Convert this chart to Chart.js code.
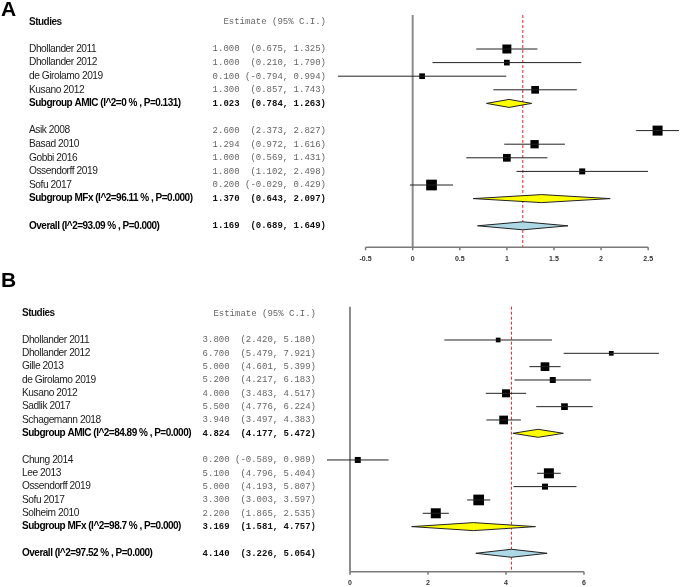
<!DOCTYPE html>
<html>
<head>
<meta charset="utf-8">
<script src="https://cdn.jsdelivr.net/npm/chart.js@4.4.1/dist/chart.umd.min.js"></script>
<style>
  html, body { margin: 0; padding: 0; background: #fff; }
  #wrap { position: relative; width: 680px; height: 587px; }
  canvas { position: absolute; left: 0; }
</style>
</head>
<body>
<div id="wrap">
  <canvas id="chartA" width="680" height="265" style="top:0"></canvas>
  <canvas id="chartB" width="680" height="322" style="top:265px"></canvas>
</div>
<script>
// ---- Panel A data ----
const studiesA = ['Dhollander 2011', 'Dhollander 2012', 'de Girolamo 2019', 'Kusano 2012',
                  'Asik 2008', 'Basad 2010', 'Gobbi 2016', 'Ossendorff 2019', 'Sofu 2017'];
const groupsA = ['AMIC', 'AMIC', 'AMIC', 'AMIC', 'MFx', 'MFx', 'MFx', 'MFx', 'MFx'];
const estA = [1.000, 1.000, 0.100, 1.300, 2.600, 1.294, 1.000, 1.800, 0.200];
const loA  = [0.675, 0.210, -0.794, 0.857, 2.373, 0.972, 0.569, 1.102, -0.029];
const hiA  = [1.325, 1.790, 0.994, 1.743, 2.827, 1.616, 1.431, 2.498, 0.429];
const subI2A = ['0', '96.11'];
const subPA  = ['0.131', '0.000'];
const subEstA = [1.023, 1.370];
const subLoA  = [0.784, 0.643];
const subHiA  = [1.263, 2.097];
const overallA = { i2: '93.09', p: '0.000', est: 1.169, lo: 0.689, hi: 1.649 };
const ticksA = [-0.5, 0, 0.5, 1, 1.5, 2, 2.5];

// ---- Panel B data ----
const studiesB = ['Dhollander 2011', 'Dhollander 2012', 'Gille 2013', 'de Girolamo 2019', 'Kusano 2012',
                  'Sadlik 2017', 'Schagemann 2018', 'Chung 2014', 'Lee 2013', 'Ossendorff 2019',
                  'Sofu 2017', 'Solheim 2010'];
const groupsB = ['AMIC', 'AMIC', 'AMIC', 'AMIC', 'AMIC', 'AMIC', 'AMIC', 'MFx', 'MFx', 'MFx', 'MFx', 'MFx'];
const estB = [3.800, 6.700, 5.000, 5.200, 4.000, 5.500, 3.940, 0.200, 5.100, 5.000, 3.300, 2.200];
const loB  = [2.420, 5.479, 4.601, 4.217, 3.483, 4.776, 3.497, -0.589, 4.796, 4.193, 3.003, 1.865];
const hiB  = [5.180, 7.921, 5.399, 6.183, 4.517, 6.224, 4.383, 0.989, 5.404, 5.807, 3.597, 2.535];
const subI2B = ['84.89', '98.7'];
const subPB  = ['0.000', '0.000'];
const subEstB = [4.824, 3.169];
const subLoB  = [4.177, 1.581];
const subHiB  = [5.472, 4.757];
const overallB = { i2: '97.52', p: '0.000', est: 4.140, lo: 3.226, hi: 5.054 };
const ticksB = [0, 2, 4, 6];

// square sizes (px), they stand for study weights
const boxA = [9, 5.7, 5.7, 7.7, 10, 8.3, 7.7, 6, 10.7];
const boxB = [4.7, 4.7, 8.7, 6, 8, 6.7, 8.7, 6, 10, 6, 10.7, 10];

const SANS = '"Liberation Sans", Arial, sans-serif';
const MONO = '"Liberation Mono", "Courier New", monospace';

function fmtEst(e, l, h) {
  return e.toFixed(3) + ' ' + ('(' + l.toFixed(3)).padStart(7) + ', ' + h.toFixed(3) + ')';
}

// rows: studies of a group, then its subgroup line, then a blank line; overall last
function buildRows(groups) {
  const studyRow = [], subRow = [], names = [];
  let r = 0;
  [...new Set(groups)].forEach((g, gi) => {
    groups.forEach((gg, i) => { if (gg === g) studyRow[i] = r++; });
    names[gi] = g;
    subRow[gi] = r++;
    r++;
  });
  return { studyRow, subRow, names, overallRow: r };
}

function makePanel(canvasId, p) {
  const rows = buildRows(p.groups);
  const ciData = [];
  p.lo.forEach((l, i) => {
    ciData.push({ x: l, y: rows.studyRow[i] }, { x: p.hi[i], y: rows.studyRow[i] }, { x: p.hi[i], y: null });
  });
  const boxData = p.est.map((e, i) => ({ x: e, y: rows.studyRow[i] }));

  const diamonds = p.subEst.map((e, gi) => ({ row: rows.subRow[gi], est: e, lo: p.subLo[gi], hi: p.subHi[gi], fill: '#ffff00' }));
  diamonds.push({ row: rows.overallRow, est: p.overall.est, lo: p.overall.lo, hi: p.overall.hi, fill: '#add8e6' });

  const textRows = [];
  p.studies.forEach((s, i) => textRows.push({ row: rows.studyRow[i], name: s, est: fmtEst(p.est[i], p.lo[i], p.hi[i]), bold: false }));
  rows.names.forEach((g, gi) => textRows.push({
    row: rows.subRow[gi], bold: true,
    name: 'Subgroup ' + g + ' (I^2=' + p.subI2[gi] + ' % , P=' + p.subP[gi] + ')',
    est: fmtEst(p.subEst[gi], p.subLo[gi], p.subHi[gi])
  }));
  textRows.push({ row: rows.overallRow, bold: true,
    name: 'Overall (I^2=' + p.overall.i2 + ' % , P=' + p.overall.p + ')',
    est: fmtEst(p.overall.est, p.overall.lo, p.overall.hi) });

  const forestPlugin = {
    id: 'forest',
    beforeDatasetsDraw(chart) {
      const { ctx, scales: { x, y } } = chart;
      const top = y.getPixelForValue(-2.5), axisY = y.getPixelForValue(p.axisRow);
      ctx.save();
      // zero line
      ctx.strokeStyle = '#8c8c8c';
      ctx.lineWidth = 2;
      ctx.beginPath();
      ctx.moveTo(x.getPixelForValue(0), top);
      ctx.lineTo(x.getPixelForValue(0), axisY);
      ctx.stroke();
      // overall estimate line
      ctx.strokeStyle = '#e8262a';
      ctx.lineWidth = 1;
      ctx.setLineDash([3, 2]);
      ctx.beginPath();
      ctx.moveTo(x.getPixelForValue(p.overall.est), top);
      ctx.lineTo(x.getPixelForValue(p.overall.est), axisY);
      ctx.stroke();
      ctx.setLineDash([]);
      // x axis
      const t0 = x.getPixelForValue(p.ticks[0]), t1 = x.getPixelForValue(p.ticks[p.ticks.length - 1]);
      ctx.strokeStyle = '#7a7a7a';
      ctx.lineWidth = 1.5;
      ctx.beginPath();
      ctx.moveTo(t0, axisY);
      ctx.lineTo(t1, axisY);
      p.ticks.forEach(t => {
        const px = x.getPixelForValue(t);
        ctx.moveTo(px, axisY);
        ctx.lineTo(px, axisY + 3);
      });
      ctx.stroke();
      ctx.fillStyle = '#333';
      ctx.font = 'bold 7px ' + SANS;
      ctx.textAlign = 'center';
      ctx.textBaseline = 'middle';
      p.ticks.forEach(t => ctx.fillText(String(t), x.getPixelForValue(t), axisY + 11.5));
      ctx.restore();
    },
    afterDatasetsDraw(chart) {
      const { ctx, scales: { x, y } } = chart;
      ctx.save();
      ctx.lineWidth = 1;
      ctx.strokeStyle = '#222';
      diamonds.forEach(d => {
        const yc = y.getPixelForValue(d.row);
        ctx.beginPath();
        ctx.moveTo(x.getPixelForValue(d.lo), yc);
        ctx.lineTo(x.getPixelForValue(d.est), yc - 4);
        ctx.lineTo(x.getPixelForValue(d.hi), yc);
        ctx.lineTo(x.getPixelForValue(d.est), yc + 4);
        ctx.closePath();
        ctx.fillStyle = d.fill;
        ctx.fill();
        ctx.stroke();
      });
      ctx.restore();
    },
    afterDraw(chart) {
      const { ctx, scales: { y } } = chart;
      ctx.save();
      ctx.fillStyle = '#000';
      ctx.font = 'bold 21px ' + SANS;
      ctx.textBaseline = 'alphabetic';
      ctx.textAlign = 'left';
      ctx.fillText(p.letter, 1, p.letterY);

      ctx.textBaseline = 'middle';
      const hy = y.getPixelForValue(-2);
      ctx.letterSpacing = '-0.5px';
      ctx.font = 'bold 10px ' + SANS;
      ctx.fillStyle = '#111';
      ctx.fillText('Studies', p.nameX, hy);
      ctx.letterSpacing = '0px';
      ctx.textAlign = 'right';
      ctx.font = '9px ' + MONO;
      ctx.fillStyle = '#666';
      ctx.fillText('Estimate (95% C.I.)', p.estRight, hy);

      textRows.forEach(r => {
        const ty = y.getPixelForValue(r.row);
        ctx.textAlign = 'left';
        ctx.letterSpacing = r.bold ? '-0.5px' : '-0.45px';
        ctx.font = r.bold ? 'bold 10px ' + SANS : '10.2px ' + SANS;
        ctx.fillStyle = r.bold ? '#000' : '#222';
        ctx.fillText(r.name, p.nameX, ty);
        ctx.letterSpacing = '0px';
        ctx.textAlign = 'right';
        ctx.font = (r.bold ? 'bold ' : '') + '9px ' + MONO;
        ctx.fillStyle = r.bold ? '#111' : '#666';
        ctx.fillText(r.est, p.estRight, ty);
      });
      ctx.restore();
    }
  };

  return new Chart(document.getElementById(canvasId), {
    type: 'scatter',
    data: {
      datasets: [
        { label: 'CI', data: ciData, showLine: true, borderColor: '#222', borderWidth: 1,
          pointRadius: 0, spanGaps: false },
        { label: 'Estimate', data: boxData, pointStyle: 'rect', backgroundColor: '#000',
          borderWidth: 0, pointRadius: p.box.map(s => s / Math.SQRT2) }
      ]
    },
    options: {
      responsive: false,
      animation: false,
      events: [],
      layout: { padding: 0, autoPadding: false },
      plugins: { legend: { display: false }, tooltip: { enabled: false } },
      scales: {
        x: { type: 'linear', display: false, min: p.xMin, max: p.xMax },
        y: { type: 'linear', display: false, reverse: true, min: p.yMin, max: p.yMax }
      }
    },
    plugins: [forestPlugin]
  });
}

makePanel('chartA', {
  letter: 'A', letterY: 16, nameX: 29, estRight: 326,
  studies: studiesA, groups: groupsA, est: estA, lo: loA, hi: hiA, box: boxA,
  subI2: subI2A, subP: subPA, subEst: subEstA, subLo: subLoA, subHi: subHiA,
  overall: overallA, ticks: ticksA,
  xMin: -4.381, xMax: 2.838, yMin: -3.603, yMax: 15.882, axisRow: 14.58
});

makePanel('chartB', {
  letter: 'B', letterY: 22, nameX: 22, estRight: 316,
  studies: studiesB, groups: groupsB, est: estB, lo: loB, hi: hiB, box: boxB,
  subI2: subI2B, subP: subPB, subEst: subEstB, subLo: subLoB, subHi: subHiB,
  overall: overallB, ticks: ticksB,
  xMin: -8.974, xMax: 8.462, yMin: -5.626, yMax: 18.53, axisRow: 17.38
});
</script>
</body>
</html>
